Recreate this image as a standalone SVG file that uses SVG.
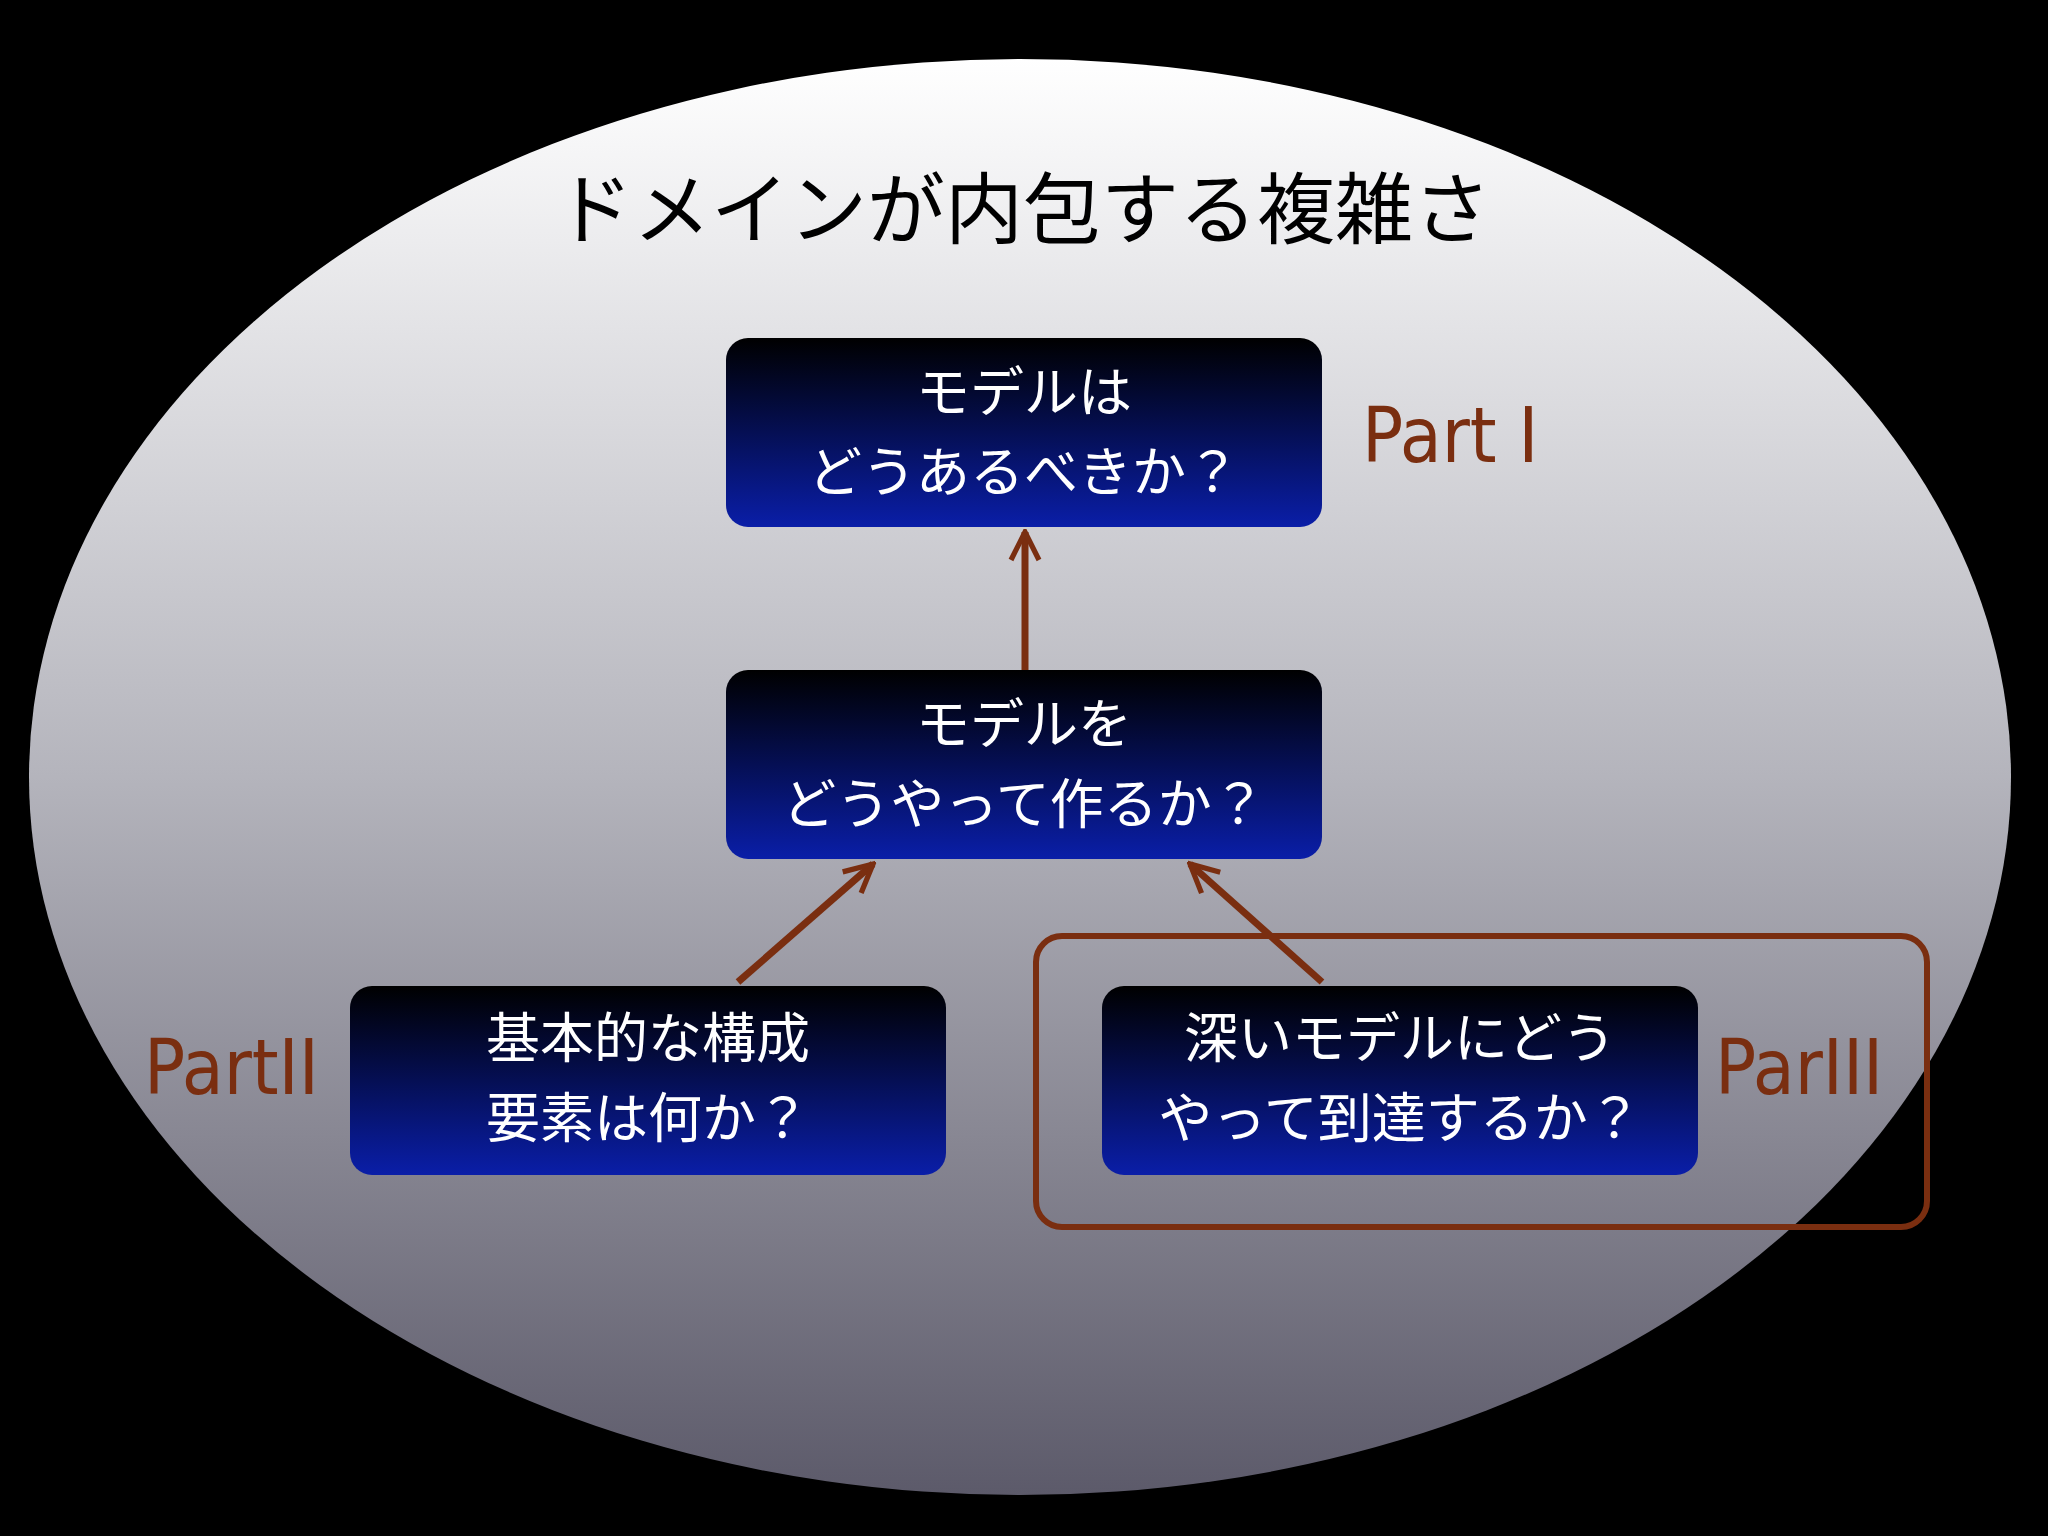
<svg xmlns="http://www.w3.org/2000/svg" width="2048" height="1536" viewBox="0 0 2048 1536">
<defs>
<linearGradient id="bg" x1="0" y1="0" x2="0" y2="1"><stop offset="0" stop-color="#ffffff"/><stop offset="0.5" stop-color="#b4b4bc"/><stop offset="1" stop-color="#5c5a6a"/></linearGradient>
<linearGradient id="bx" x1="0" y1="0" x2="0" y2="1"><stop offset="0" stop-color="#000000"/><stop offset="1" stop-color="#0a1ea8"/></linearGradient>
<marker id="ah" viewBox="0 0 20 20" refX="18" refY="10" markerWidth="5" markerHeight="5" orient="auto" markerUnits="strokeWidth"><path d="M2,2 L18,10 L2,18" fill="none" stroke="#7a2e10" stroke-width="3"/></marker>
<style>
.box{fill:url(#bx);}
.bt{font-family:"Noto Sans CJK JP",sans-serif;font-size:54px;fill:#ffffff;text-anchor:middle;}
.pt{font-family:"Liberation Sans Narrow","DejaVu Sans Condensed","Liberation Sans",sans-serif;font-size:76px;fill:#7a2e10;}
.ar{stroke:#7a2e10;stroke-width:7;fill:none;marker-end:url(#ah);}
</style>
</defs>
<rect width="2048" height="1536" fill="#000"/>
<ellipse cx="1020" cy="777" rx="991" ry="718" fill="url(#bg)"/>
<text x="1023" y="238" font-family="Noto Sans CJK JP,sans-serif" font-size="78" fill="#000" text-anchor="middle">ドメインが内包する複雑さ</text>
<g id="connectors">
<path class="ar" d="M1025,670 L1025,532"/>
<path class="ar" d="M738,982 L873,864"/>
<path class="ar" d="M1322,982 L1190,864"/>
</g>
<g id="n1"><rect class="box" x="726" y="338" width="596" height="189" rx="22"/><text class="bt" x="1024" y="412">モデルは</text><text class="bt" x="1024" y="492">どうあるべきか？</text></g>
<g id="n2"><rect class="box" x="726" y="670" width="596" height="189" rx="22"/><text class="bt" x="1024" y="744">モデルを</text><text class="bt" x="1024" y="824">どうやって作るか？</text></g>
<g id="n3"><rect class="box" x="350" y="986" width="596" height="189" rx="22"/><text class="bt" x="648" y="1058">基本的な構成</text><text class="bt" x="648" y="1138">要素は何か？</text></g>
<g id="n4"><rect class="box" x="1102" y="986" width="596" height="189" rx="22"/><text class="bt" x="1400" y="1058">深いモデルにどう</text><text class="bt" x="1400" y="1138">やって到達するか？</text></g>
<rect x="1036" y="936" width="891" height="291" rx="26" fill="none" stroke="#7a2e10" stroke-width="6"/>
<text class="pt" x="1362" y="462">Part I</text>
<text class="pt" x="144" y="1094">PartII</text>
<text class="pt" x="1715" y="1094">ParIII</text>
</svg>
